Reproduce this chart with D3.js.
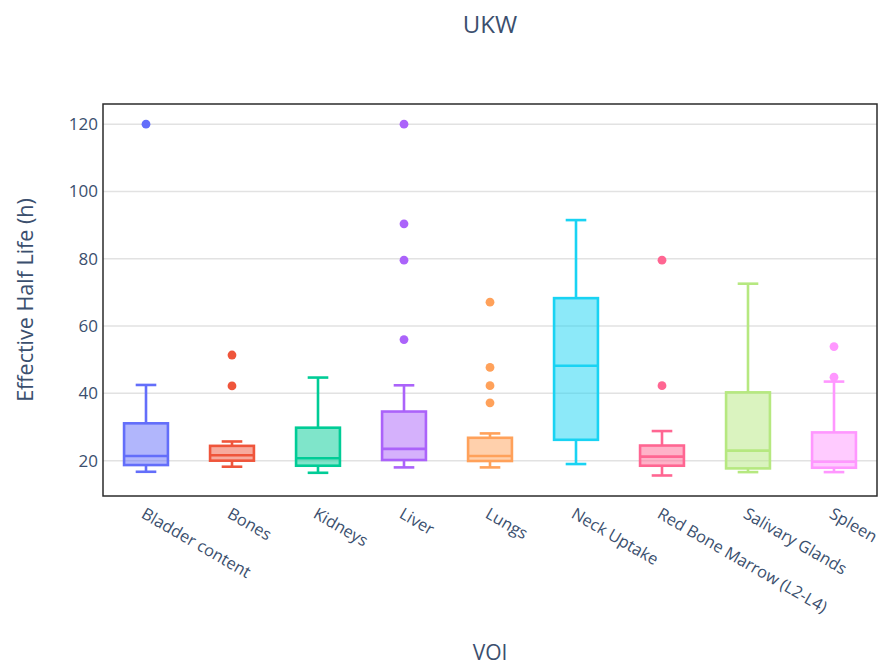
<!DOCTYPE html>
<html>
<head>
<meta charset="utf-8">
<script src="https://cdn.jsdelivr.net/npm/d3@7"></script>
<style>
  html, body { margin: 0; padding: 0; background: #fff; }
  svg { display: block; font-family: "Open Sans", "Noto Sans", sans-serif; }
</style>
</head>
<body>
<svg id="chart" width="883" height="665"></svg>
<script>
const categories = ["Bladder content", "Bones", "Kidneys", "Liver", "Lungs", "Neck Uptake", "Red Bone Marrow (L2-L4)", "Salivary Glands", "Spleen"];
const colors = ["#636efa", "#EF553B", "#00cc96", "#ab63fa", "#FFA15A", "#19d3f3", "#FF6692", "#B6E880", "#FF97FF"];
const lowerFence = [16.7, 18.2, 16.4, 18.0, 18.0, 19.0, 15.6, 16.6, 16.6];
const q1 =         [18.7, 20.0, 18.5, 20.2, 19.9, 26.2, 18.5, 17.7, 17.9];
const median =     [21.4, 21.6, 20.7, 23.5, 21.4, 48.2, 21.2, 23.0, 19.7];
const q3 =         [31.1, 24.4, 29.8, 34.6, 26.8, 68.3, 24.5, 40.3, 28.4];
const upperFence = [42.5, 25.7, 44.7, 42.4, 28.1, 91.5, 28.8, 72.6, 43.5];
const outliers = [
  [120],
  [51.4, 42.2],
  [],
  [120, 90.4, 79.6, 56.0],
  [67.1, 47.7, 42.3, 37.2],
  [],
  [79.6, 42.3],
  [],
  [53.9, 44.8]
];
const yTicks = [20, 40, 60, 80, 100, 120];
const titleText = "UKW";
const xTitle = "VOI";
const yTitle = "Effective Half Life (h)";

const svg = d3.select("#chart");
const plot = { left: 103, right: 877, top: 104, bottom: 496 };
const textColor = "#3b4f6e";

const x = d3.scaleBand().domain(categories).range([plot.left, plot.right]).padding(0);
const y = d3.scaleLinear().domain([9.5, 126]).range([plot.bottom, plot.top]);

// gridlines
svg.append("g").selectAll("line").data(yTicks).join("line")
  .attr("x1", plot.left).attr("x2", plot.right)
  .attr("y1", d => y(d)).attr("y2", d => y(d))
  .attr("stroke", "#e2e2e2").attr("stroke-width", 1.5);

// y axis
const yAxis = svg.append("g").attr("transform", `translate(${plot.left},0)`)
  .call(d3.axisLeft(y).tickValues(yTicks).tickSize(0).tickPadding(5));
yAxis.select(".domain").remove();
yAxis.selectAll("text").attr("fill", textColor).style("font-size", "17px")
  .style("font-family", '"Open Sans", sans-serif');

// x axis
const xAxis = svg.append("g").attr("transform", `translate(0,${plot.bottom})`)
  .call(d3.axisBottom(x).tickSize(0));
xAxis.select(".domain").remove();
xAxis.selectAll(".tick text")
  .attr("fill", textColor).style("font-size", "16.4px")
  .style("font-family", '"Open Sans", sans-serif')
  .attr("text-anchor", "start")
  .attr("x", 0).attr("y", 0).attr("dy", "0.71em")
  .attr("transform", "translate(0,11) rotate(30)");

// boxes
const bw = x.bandwidth() * 0.51;
const cw = bw * 0.47;
const idx = d3.range(categories.length);
const g = svg.append("g");
idx.forEach(i => {
  const cx = x(categories[i]) + x.bandwidth() / 2;
  const col = colors[i];
  const bg = g.append("g");
  bg.append("rect")
    .attr("x", cx - bw / 2).attr("width", bw)
    .attr("y", y(q3[i])).attr("height", y(q1[i]) - y(q3[i]))
    .attr("fill", col).attr("fill-opacity", 0.5)
    .attr("stroke", col).attr("stroke-width", 2.6);
  bg.append("line").attr("x1", cx - bw / 2).attr("x2", cx + bw / 2)
    .attr("y1", y(median[i])).attr("y2", y(median[i]))
    .attr("stroke", col).attr("stroke-width", 2.6);
  bg.append("line").attr("x1", cx).attr("x2", cx)
    .attr("y1", y(q3[i])).attr("y2", y(upperFence[i]))
    .attr("stroke", col).attr("stroke-width", 2.6);
  bg.append("line").attr("x1", cx).attr("x2", cx)
    .attr("y1", y(q1[i])).attr("y2", y(lowerFence[i]))
    .attr("stroke", col).attr("stroke-width", 2.6);
  [upperFence[i], lowerFence[i]].forEach(v => {
    bg.append("line").attr("x1", cx - cw / 2).attr("x2", cx + cw / 2)
      .attr("y1", y(v)).attr("y2", y(v))
      .attr("stroke", col).attr("stroke-width", 2.6);
  });
  bg.selectAll("circle.o").data(outliers[i]).join("circle")
    .attr("class", "o")
    .attr("cx", cx).attr("cy", d => y(d)).attr("r", 4.4)
    .attr("fill", col);
});

// frame
svg.append("rect")
  .attr("x", plot.left).attr("y", plot.top)
  .attr("width", plot.right - plot.left).attr("height", plot.bottom - plot.top)
  .attr("fill", "none").attr("stroke", "#2b2b2b").attr("stroke-width", 1.5);

// titles
svg.append("text").attr("x", (plot.left + plot.right) / 2).attr("y", 33)
  .attr("text-anchor", "middle").attr("fill", textColor)
  .style("font-size", "24px").text(titleText);
svg.append("text").attr("x", (plot.left + plot.right) / 2).attr("y", 660)
  .attr("text-anchor", "middle").attr("fill", textColor)
  .style("font-size", "21px").text(xTitle);
svg.append("text")
  .attr("transform", `translate(33,${(plot.top + plot.bottom) / 2}) rotate(-90)`)
  .attr("text-anchor", "middle").attr("fill", textColor)
  .style("font-size", "21.5px").text(yTitle);
</script>
</body>
</html>
